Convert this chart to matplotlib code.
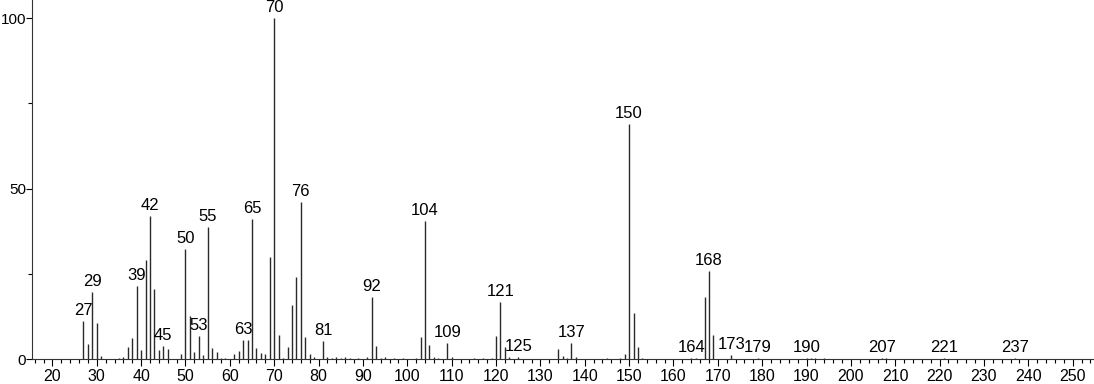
import matplotlib
matplotlib.use('Agg')
import matplotlib.pyplot as plt
from matplotlib.ticker import MultipleLocator

# mass spectrum: m/z and relative intensity
mz = [27, 28, 29, 30, 31, 35, 36, 37, 38, 39, 40, 41, 42, 43, 44, 45, 46, 49,
      50, 51, 52, 53, 54, 55, 56, 57, 58, 59, 61, 62, 63, 64, 65, 66, 67, 68,
      69, 70, 71, 72, 73, 74, 75, 76, 77, 78, 79, 81, 82, 83, 84, 85, 86, 87,
      89, 91, 92, 93, 94, 95, 97, 99, 102, 103, 104, 105, 106, 107, 109, 110,
      115, 117, 119, 120, 121, 122, 123, 125, 134, 135, 136, 137, 138, 145,
      148, 149, 150, 151, 152, 153, 164, 165, 167, 168, 169, 173, 179, 190,
      191, 192, 194, 207, 208, 221, 237]
intensity = [11.0, 4.5, 19.6, 10.5, 1.0, 0.3, 0.6, 3.4, 6.2, 21.4, 2.6, 29.0,
             42.0, 20.5, 2.6, 3.9, 2.9, 1.5, 32.2, 12.7, 2.0, 6.7, 1.2, 38.7,
             3.2, 2.1, 0.3, 0.3, 1.5, 2.3, 5.6, 5.6, 41.0, 3.2, 1.7, 1.5, 29.9,
             100.0, 7.0, 0.3, 3.5, 15.8, 24.0, 46.0, 6.4, 1.5, 0.5, 5.3, 0.5,
             0.4, 0.5, 0.4, 0.5, 0.3, 0.4, 0.5, 18.1, 3.8, 0.4, 0.5, 0.3, 0.4,
             0.4, 6.4, 40.5, 4.1, 0.6, 0.4, 4.6, 0.5, 0.3, 0.3, 0.4, 6.7, 16.6,
             3.4, 0.5, 0.5, 2.8, 1.0, 0.3, 4.6, 0.6, 0.3, 0.4, 1.5, 69.0, 13.4,
             3.4, 0.4, 0.3, 0.4, 18.1, 25.8, 7.0, 1.1, 0.4, 0.4, 0.3, 0.3, 0.4,
             0.3, 0.3, 0.3, 0.3]
labeled = [27, 29, 39, 42, 45, 50, 53, 55, 63, 65, 70, 76, 81, 92, 104, 109,
           121, 125, 137, 150, 164, 168, 173, 179, 190, 207, 221, 237]

plt.rcParams['font.family'] = ['Liberation Sans', 'DejaVu Sans']

fig = plt.figure(figsize=(10.94, 3.84), dpi=100)
ax = fig.add_axes([32 / 1094, 0.0651, 1 - 32 / 1094, 0.9349])

ax.vlines(mz, 0, intensity, colors='#2a2a2a', linewidth=1.0)

lookup = dict(zip(mz, intensity))
for m in labeled:
    ax.text(m, lookup.get(m, 0) + 0.9, str(m), ha='center', va='bottom',
            fontsize=12, color='black')

ax.set_xlim(15.4, 254.8)
ax.set_ylim(0, 105.3)
ax.xaxis.set_major_locator(MultipleLocator(10))
ax.xaxis.set_minor_locator(MultipleLocator(2))
ax.set_xticks(range(20, 251, 10))
ax.set_yticks([0, 50, 100])
ax.set_yticks([25, 75], minor=True)
ax.tick_params(axis='x', which='major', length=5, width=0.8, labelsize=11.5, pad=2)
ax.tick_params(axis='x', which='minor', length=3, width=0.8)
ax.tick_params(axis='y', which='major', length=4, width=0.8, labelsize=11, pad=0.3)
ax.tick_params(axis='y', which='minor', length=3, width=0.8)
ax.spines['top'].set_visible(False)
ax.spines['right'].set_visible(False)
ax.spines['left'].set_color('#333333')
ax.spines['bottom'].set_color('#333333')

fig.savefig('out.png', dpi=100)
